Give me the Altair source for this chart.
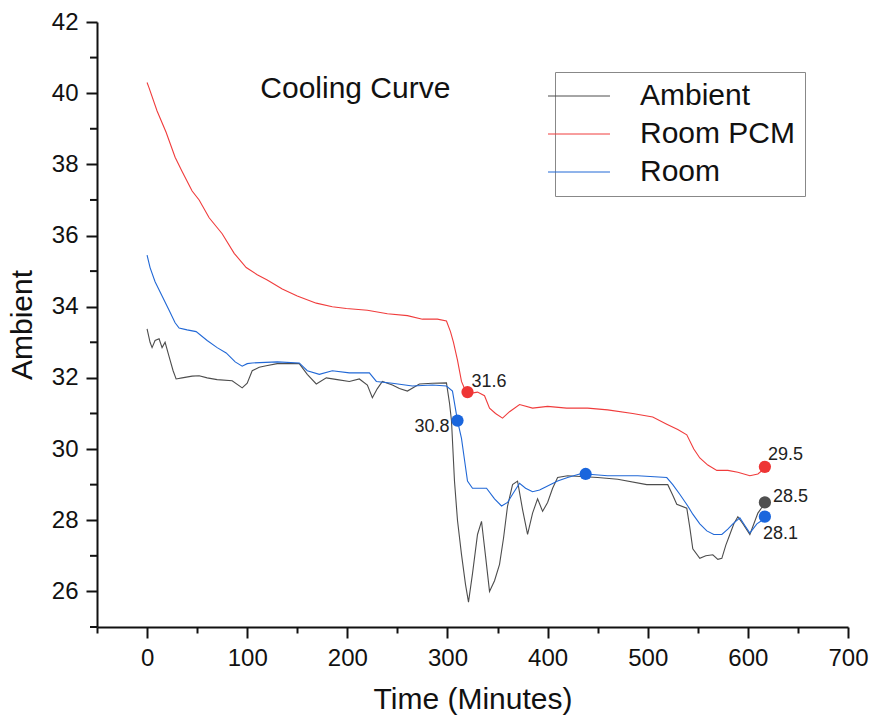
import altair as alt
import pandas as pd

FONT = "Liberation Sans"

# ---- data ----
pcm_x = [0, 2, 10, 19, 28, 35, 45, 52, 62, 75, 87, 99, 110, 120, 135, 150, 169, 185, 199, 220,
         240, 260, 275, 290, 299, 303, 306, 310, 314, 317, 320, 330, 337, 342, 348, 355, 362, 372,
         385, 400, 419, 440, 460, 485, 505, 519, 530, 539, 546, 552, 560, 569, 580, 590, 602, 610, 617]
pcm_y = [40.3, 40.15, 39.5, 38.9, 38.2, 37.8, 37.25, 37.0, 36.5, 36.05, 35.5, 35.1, 34.9, 34.75,
         34.5, 34.3, 34.1, 34.0, 33.95, 33.9, 33.8, 33.75, 33.65, 33.65, 33.6, 33.3, 33.0, 32.5,
         31.9, 31.7, 31.55, 31.6, 31.5, 31.15, 31.0, 30.87, 31.05, 31.25, 31.15, 31.2, 31.15, 31.15,
         31.1, 31.0, 30.9, 30.7, 30.55, 30.4, 30.0, 29.75, 29.55, 29.4, 29.4, 29.35, 29.25, 29.3, 29.46]

room_x = [0, 3, 8, 15, 22, 28, 32, 40, 49, 60, 70, 79, 88, 95, 100, 105, 130, 152, 160, 172, 185,
          202, 222, 229, 245, 265, 285, 299, 305, 310, 314, 317, 320, 325, 339, 347, 354, 360, 365,
          372, 378, 385, 392, 399, 410, 420, 432, 438, 460, 490, 519, 525, 532, 540, 545, 552, 559,
          566, 574, 580, 585, 592, 597, 602, 609, 618]
room_y = [35.45, 35.1, 34.7, 34.3, 33.9, 33.55, 33.4, 33.35, 33.3, 33.05, 32.85, 32.7, 32.45, 32.33,
          32.4, 32.42, 32.45, 32.42, 32.2, 32.1, 32.2, 32.14, 32.14, 31.9, 31.85, 31.77, 31.8, 31.77,
          31.63, 30.8, 30.3, 29.7, 29.1, 28.9, 28.9, 28.6, 28.4, 28.5, 28.73, 29.04, 28.9, 28.8,
          28.85, 28.95, 29.1, 29.2, 29.3, 29.3, 29.25, 29.25, 29.2, 29.0, 28.73, 28.4, 28.17, 27.9,
          27.7, 27.6, 27.6, 27.75, 27.9, 28.07, 27.85, 27.64, 27.9, 28.07]

amb_x = [0, 3, 5, 8, 12, 15, 18, 22, 26, 29, 35, 45, 52, 60, 70, 85, 95, 100, 105, 112, 119, 130,
         152, 160, 169, 179, 190, 202, 212, 220, 225, 230, 235, 245, 252, 260, 272, 285, 299, 302,
         304, 307, 310, 314, 318, 321, 325, 330, 334, 338, 342, 347, 352, 356, 360, 365, 370, 375,
         380, 385, 390, 395, 400, 405, 410, 420, 450, 470, 499, 520, 525, 529, 539, 542, 545, 552,
         558, 565, 570, 574, 578, 582, 586, 590, 595, 602, 606, 610, 617]
amb_y = [33.38, 33.0, 32.85, 33.05, 33.1, 32.85, 33.0, 32.6, 32.2, 31.97, 32.0, 32.05, 32.06, 32.0,
         31.95, 31.92, 31.72, 31.85, 32.2, 32.3, 32.34, 32.4, 32.4, 32.1, 31.83, 32.0, 31.95, 31.9,
         31.97, 31.8, 31.44, 31.7, 31.9, 31.8, 31.7, 31.63, 31.83, 31.85, 31.86, 31.3, 30.8, 29.1,
         28.0, 27.04, 26.2, 25.7, 26.5, 27.6, 27.97, 27.0, 26.0, 26.3, 26.76, 27.5, 28.4, 29.0, 29.1,
         28.3, 27.6, 28.2, 28.6, 28.25, 28.5, 28.9, 29.2, 29.25, 29.2, 29.15, 29.0, 29.0, 28.7,
         28.45, 28.34, 27.8, 27.2, 26.93, 27.0, 27.03, 26.9, 26.93, 27.3, 27.6, 27.9, 28.1, 27.9,
         27.6, 27.9, 28.2, 28.48]

series_names = ["Ambient", "Room PCM", "Room"]
series_colors = ["#4d4d4d", "#f03c3c", "#2168d6"]

# highlighted points
pt_x = [320, 617, 310, 438, 617, 617]
pt_y = [31.6, 29.5, 30.8, 29.3, 28.1, 28.5]
pt_color = ["#ee3535", "#ee3535", "#1a66dd", "#1a66dd", "#1a66dd", "#505050"]
pt_label = ["31.6", "29.5", "30.8", "", "28.1", "28.5"]
pt_align = ["left", "left", "right", "left", "left", "left"]
pt_dx = [4, 3, -8, 0, -2, 8]
pt_dy = [-10, -12, 6, 0, 17, -5]

chart_title = "Cooling Curve"
title_x = [208]
title_y = [40.12]

x_ticks = list(range(-50, 701, 50))
y_major = list(range(26, 43, 2))
y_minor = list(range(25, 42, 2))

# ---- tables ----
rows = []
for name, xs, ys in [("Ambient", amb_x, amb_y), ("Room PCM", pcm_x, pcm_y), ("Room", room_x, room_y)]:
    for i, (a, b) in enumerate(zip(xs, ys)):
        rows.append({"series": name, "t": a, "v": b, "order": i})
lines_df = pd.DataFrame(rows)

pts_df = pd.DataFrame({"t": pt_x, "v": pt_y, "c": pt_color, "label": pt_label})
title_df = pd.DataFrame({"t": title_x, "v": title_y, "txt": [chart_title]})
minor_df = pd.DataFrame({"v": y_minor})

xscale = alt.Scale(domain=[-50, 700], nice=False, zero=False)
yscale = alt.Scale(domain=[25, 42], nice=False, zero=False)

x_axis = alt.Axis(
    title="Time (Minutes)", values=x_ticks,
    labelExpr="(datum.value % 100 == 0 && datum.value >= 0) ? datum.label : ''",
    tickSize={"condition": {"test": "datum.value % 100 == 0", "value": 11}, "value": 6},
    grid=False, labelFontSize=24, titleFontSize=30, labelFont=FONT, titleFont=FONT,
    titleFontWeight="normal", labelColor="#111", titleColor="#111",
    domainColor="#111", domainWidth=2, tickColor="#111", tickWidth=2,
    labelPadding=8, titlePadding=14, labelFlush=False, labelOverlap=False,
)
y_axis = alt.Axis(
    title="Ambient", values=y_major, tickSize=11,
    grid=False, labelFontSize=24, titleFontSize=30, labelFont=FONT, titleFont=FONT,
    titleFontWeight="normal", labelColor="#111", titleColor="#111",
    domainColor="#111", domainWidth=2, tickColor="#111", tickWidth=2,
    labelPadding=8, titlePadding=14, labelFlush=False, labelOverlap=False,
)

lines = alt.Chart(lines_df).mark_line(strokeWidth=1.1, interpolate="linear").encode(
    x=alt.X("t:Q", scale=xscale, axis=x_axis),
    y=alt.Y("v:Q", scale=yscale, axis=y_axis),
    color=alt.Color("series:N",
                    scale=alt.Scale(domain=series_names, range=series_colors),
                    sort=series_names,
                    legend=alt.Legend(
                        title=None, orient="none", legendX=458, legendY=50,
                        symbolType="M-3,0H3", symbolSize=427, symbolStrokeWidth=1,
                        symbolOpacity=0.6, labelFontSize=30, labelFont=FONT,
                        labelColor="#111", labelOffset=46, rowPadding=8, padding=9,
                        strokeColor="#888", fillColor="white", cornerRadius=0,
                    )),
    detail="series:N",
    order="order:Q",
)

minor_ticks = alt.Chart(minor_df).mark_rule(color="#111", strokeWidth=2).encode(
    y=alt.Y("v:Q", scale=yscale),
    x=alt.value(-7),
    x2=alt.value(0),
)

points = alt.Chart(pts_df).mark_circle(size=150, opacity=1).encode(
    x=alt.X("t:Q", scale=xscale),
    y=alt.Y("v:Q", scale=yscale),
    color=alt.Color("c:N", scale=None),
)

label_layers = []
for i in range(len(pt_x)):
    if not pt_label[i]:
        continue
    sub = pts_df.iloc[[i]]
    label_layers.append(
        alt.Chart(sub).mark_text(fontSize=18, font=FONT, color="#222", baseline="middle",
                                 align=pt_align[i], dx=pt_dx[i], dy=pt_dy[i]).encode(
            x=alt.X("t:Q", scale=xscale),
            y=alt.Y("v:Q", scale=yscale),
            text="label:N",
        )
    )

title_text = alt.Chart(title_df).mark_text(fontSize=30, font=FONT, color="#111",
                                           align="center", baseline="middle").encode(
    x=alt.X("t:Q", scale=xscale),
    y=alt.Y("v:Q", scale=yscale),
    text="txt:N",
)

chart = alt.layer(lines, minor_ticks, points, *label_layers, title_text).properties(
    width=751, height=605,
    autosize=alt.AutoSizeParams(type="none"),
    padding={"left": 97, "top": 22, "right": 26, "bottom": 100},
    background="white",
).configure_view(stroke=None)

chart.save("out.html", embed_options={"renderer": "svg", "actions": False})
